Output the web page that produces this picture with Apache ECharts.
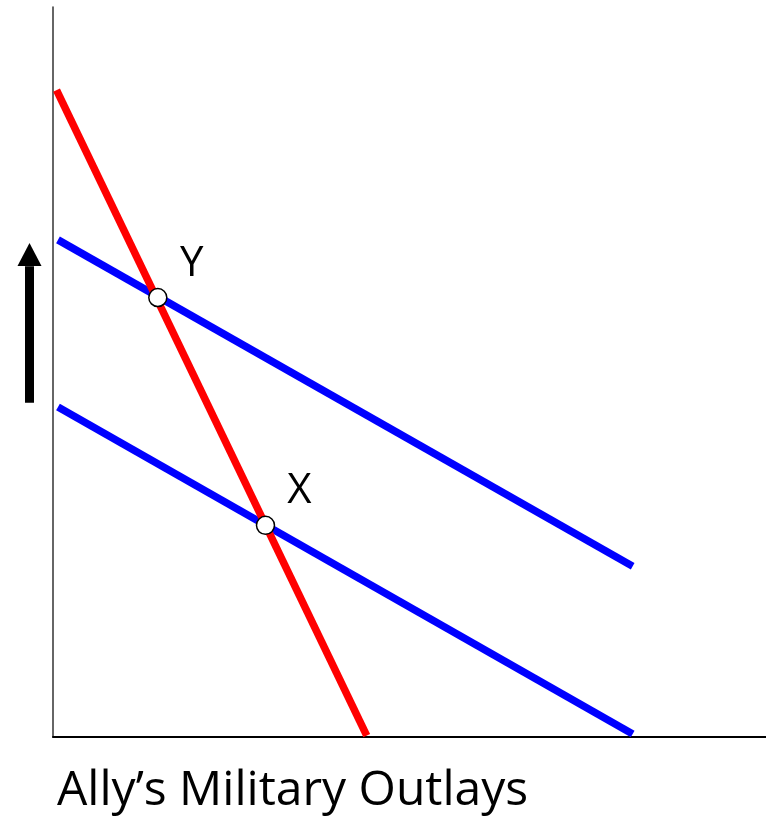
<!DOCTYPE html>
<html>
<head>
<meta charset="utf-8">
<script src="https://cdn.jsdelivr.net/npm/echarts@6/dist/echarts.min.js"></script>
<style>
html,body{margin:0;padding:0;background:#fff;}
#chart{width:766px;height:816px;}
</style>
</head>
<body>
<div id="chart"></div>
<script>
// 曲线端点 (数据坐标, 0-100)
var redLine = [[0.5, 88.6], [44.0, 0.2]];
var blueUpper = [[0.7, 68.1], [81.3, 23.4]];
var blueLower = [[0.7, 45.2], [81.3, 0.4]];
// 均衡点
var points = [
    {name: 'Y', value: [14.7, 60.2]},
    {name: 'X', value: [29.8, 29.0]}
];
// 左侧向上箭头 (杆 + 箭头), 画在左边的小坐标系里
var arrowShaft = [[29.5, 45.8], [29.5, 64.5]];
var arrowHead = [[29.5, 66.1]];
var xTitle = 'Ally\u2019s Military Outlays';

var myChart = echarts.init(document.getElementById('chart'));

var hiddenAxis = {
    type: 'value',
    show: false,
    splitLine: {show: false}
};

var option = {
    animation: false,
    backgroundColor: '#fff',
    title: {
        text: xTitle,
        left: 52,
        top: 762,
        textStyle: {
            fontFamily: 'Open Sans',
            fontSize: 48,
            fontWeight: 'normal',
            color: '#000'
        }
    },
    grid: [
        {left: 53, right: 0, top: 7, bottom: 79},
        {left: 0, width: 53, top: 7, bottom: 79}
    ],
    xAxis: [
        {
            type: 'value',
            min: 0,
            max: 100,
            gridIndex: 0,
            axisLine: {show: true, onZero: false, lineStyle: {color: '#000', width: 2}},
            axisTick: {show: false},
            axisLabel: {show: false},
            splitLine: {show: false}
        },
        Object.assign({gridIndex: 1, min: 0, max: 53}, hiddenAxis)
    ],
    yAxis: [
        {
            type: 'value',
            min: 0,
            max: 100,
            gridIndex: 0,
            axisLine: {show: true, onZero: false, lineStyle: {color: '#333', width: 1.5}},
            axisTick: {show: false},
            axisLabel: {show: false},
            splitLine: {show: false}
        },
        Object.assign({gridIndex: 1, min: 0, max: 100}, hiddenAxis)
    ],
    series: [
        {
            type: 'line',
            data: blueUpper,
            symbol: 'none',
            lineStyle: {color: '#0000ff', width: 7.5}
        },
        {
            type: 'line',
            data: blueLower,
            symbol: 'none',
            lineStyle: {color: '#0000ff', width: 7.5}
        },
        {
            type: 'line',
            data: redLine,
            symbol: 'none',
            clip: false,
            lineStyle: {color: '#ff0000', width: 7.5}
        },
        {
            type: 'line',
            xAxisIndex: 1,
            yAxisIndex: 1,
            data: arrowShaft,
            symbol: 'none',
            silent: true,
            lineStyle: {color: '#000', width: 9}
        },
        {
            type: 'scatter',
            xAxisIndex: 1,
            yAxisIndex: 1,
            data: arrowHead,
            symbol: 'triangle',
            symbolSize: [24, 23],
            silent: true,
            itemStyle: {color: '#000', opacity: 1}
        },
        {
            type: 'scatter',
            data: points,
            symbol: 'circle',
            symbolSize: 18,
            z: 10,
            itemStyle: {color: '#fff', borderColor: '#000', borderWidth: 1.5, opacity: 1},
            label: {
                show: true,
                formatter: '{b}',
                position: 'inside',
                offset: [34, -34],
                fontFamily: 'Open Sans',
                fontSize: 42,
                color: '#000'
            }
        }
    ]
};

myChart.setOption(option);
</script>
</body>
</html>
